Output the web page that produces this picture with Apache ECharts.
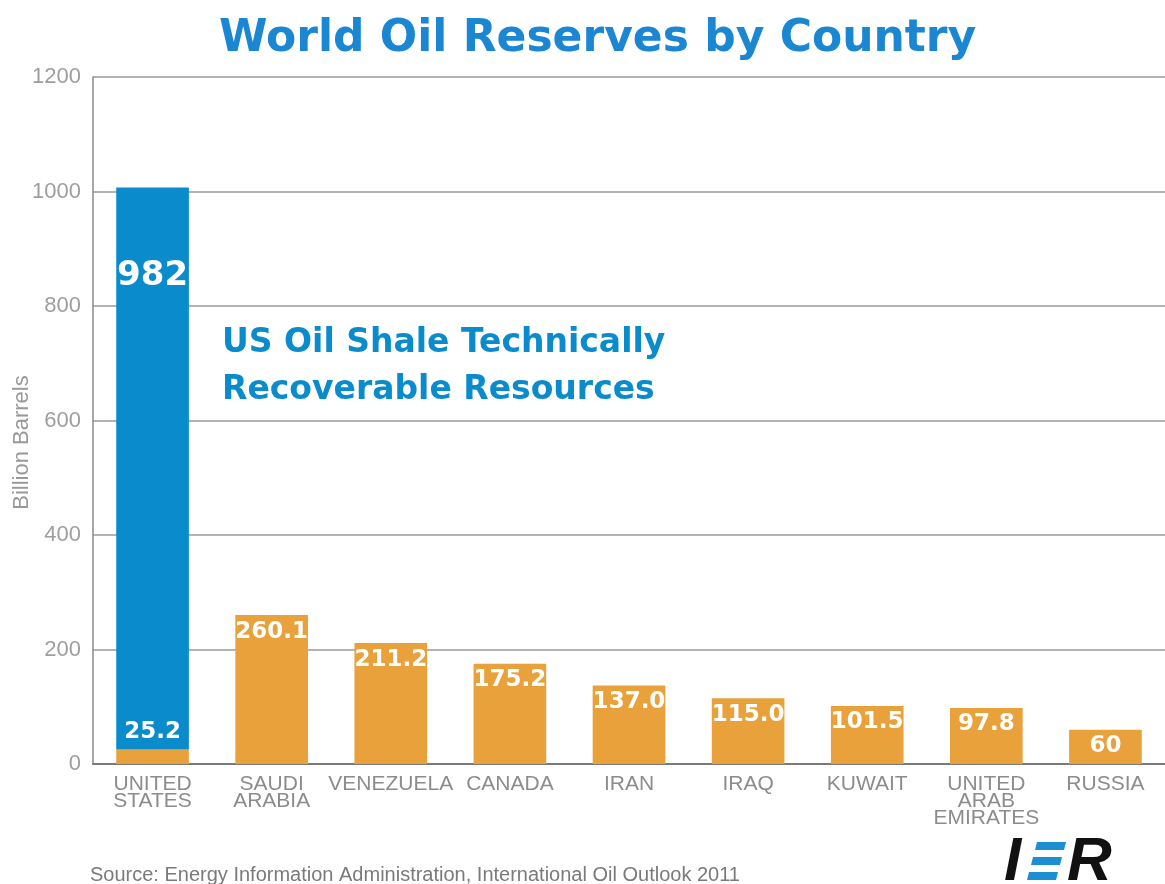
<!DOCTYPE html>
<html>
<head>
<meta charset="utf-8">
<script src="https://cdn.jsdelivr.net/npm/echarts@6/dist/echarts.min.js"></script>
<style>
  html, body { margin: 0; padding: 0; background: #fff; }
  #chart { width: 1165px; height: 884px; }
</style>
</head>
<body>
<div id="chart"></div>
<script>
// Proved reserves by country (billion barrels)
const countries = ['UNITED\nSTATES', 'SAUDI\nARABIA', 'VENEZUELA', 'CANADA', 'IRAN', 'IRAQ', 'KUWAIT', 'UNITED\nARAB\nEMIRATES', 'RUSSIA'];
const provedReserves = [25.2, 260.1, 211.2, 175.2, 137.0, 115.0, 101.5, 97.8, 60];
const provedLabels = ['25.2', '260.1', '211.2', '175.2', '137.0', '115.0', '101.5', '97.8', '60'];
// US oil shale technically recoverable resources, stacked on the US bar
const shaleResources = [982, null, null, null, null, null, null, null, null];
const yTicks = { min: 0, max: 1200, interval: 200 };

const BLUE = '#0a8bcb';
const ORANGE = '#e9a23b';
const GREY = '#8c8c8c';
const HEAD_FONT = '"DejaVu Sans"';

const chart = echarts.init(document.getElementById('chart'));

const provedData = provedReserves.map((v, i) => {
  const item = { value: v };
  if (i === 0) {
    item.label = { position: 'top', distance: 6 };
  }
  return item;
});

chart.setOption({
  animation: false,
  title: {
    text: 'World Oil Reserves by Country',
    left: 214,
    top: 13,
    textStyle: { fontFamily: HEAD_FONT, fontWeight: 'bold', fontSize: 44, color: '#1b87d2' }
  },
  grid: { left: 93, right: 0, top: 77, bottom: 120, containLabel: false, outerBoundsMode: 'none' },
  xAxis: {
    type: 'category',
    data: countries,
    axisTick: { show: false },
    axisLine: { lineStyle: { color: '#7a7a7a', width: 2 } },
    axisLabel: {
      interval: 0,
      margin: 12,
      color: GREY,
      fontFamily: 'Liberation Sans',
      fontSize: 21,
      lineHeight: 17
    }
  },
  yAxis: {
    type: 'value',
    min: yTicks.min,
    max: yTicks.max,
    interval: yTicks.interval,
    name: 'Billion Barrels',
    nameLocation: 'middle',
    nameGap: 60,
    nameMoveOverlap: false,
    nameTextStyle: {
      color: '#999',
      fontFamily: 'Liberation Sans',
      fontSize: 22,
      padding: [0, 44, 0, 0]
    },
    axisLine: { show: true, lineStyle: { color: '#8a8a8a', width: 1.5 } },
    axisTick: { show: false },
    axisLabel: {
      color: '#9e9e9e',
      fontFamily: 'Liberation Sans',
      fontSize: 22,
      margin: 12,
      formatter: v => String(v)
    },
    splitLine: { lineStyle: { color: '#9a9a9a', width: 1.5 } }
  },
  series: [
    {
      name: 'Proved reserves',
      type: 'bar',
      stack: 'total',
      barWidth: '61%',
      data: provedData,
      itemStyle: { color: ORANGE },
      label: {
        show: true,
        position: 'insideTop',
        distance: 5,
        color: '#fff',
        fontFamily: HEAD_FONT,
        fontWeight: 'bold',
        fontSize: 23,
        formatter: p => provedLabels[p.dataIndex]
      }
    },
    {
      name: 'Oil shale',
      type: 'bar',
      stack: 'total',
      barWidth: '61%',
      data: shaleResources,
      itemStyle: { color: BLUE },
      label: {
        show: true,
        position: 'insideTop',
        offset: [0, 67],
        color: '#fff',
        fontFamily: HEAD_FONT,
        fontWeight: 'bold',
        fontSize: 34
      }
    }
  ],
  graphic: [
    {
      type: 'text',
      left: 222,
      top: 320,
      style: {
        text: 'US Oil Shale Technically\nRecoverable Resources',
        fill: BLUE,
        font: 'bold 33px "DejaVu Sans"',
        lineHeight: 47
      }
    },
    {
      type: 'text',
      left: 90,
      top: 865,
      style: {
        text: 'Source: Energy Information Administration, International Oil Outlook 2011',
        fill: '#7a7a7a',
        font: '20px "Liberation Sans"'
      }
    },
    {
      type: 'group',
      left: 1004,
      top: 832,
      children: [
        { type: 'text', x: 0, y: 0, style: { text: 'I', fill: '#111', font: 'italic 900 62px "Liberation Sans"' } },
        { type: 'polygon', shape: { points: [[33, 10], [62, 10], [60, 18], [31, 18]] }, style: { fill: '#1b8fd2' } },
        { type: 'polygon', shape: { points: [[29, 25], [58, 25], [56, 33], [27, 33]] }, style: { fill: '#1b8fd2' } },
        { type: 'polygon', shape: { points: [[25, 40], [54, 40], [52, 48], [23, 48]] }, style: { fill: '#1b8fd2' } },
        { type: 'text', x: 63, y: 0, style: { text: 'R', fill: '#111', font: 'italic 900 62px "Liberation Sans"' } }
      ]
    }
  ]
});
</script>
</body>
</html>
